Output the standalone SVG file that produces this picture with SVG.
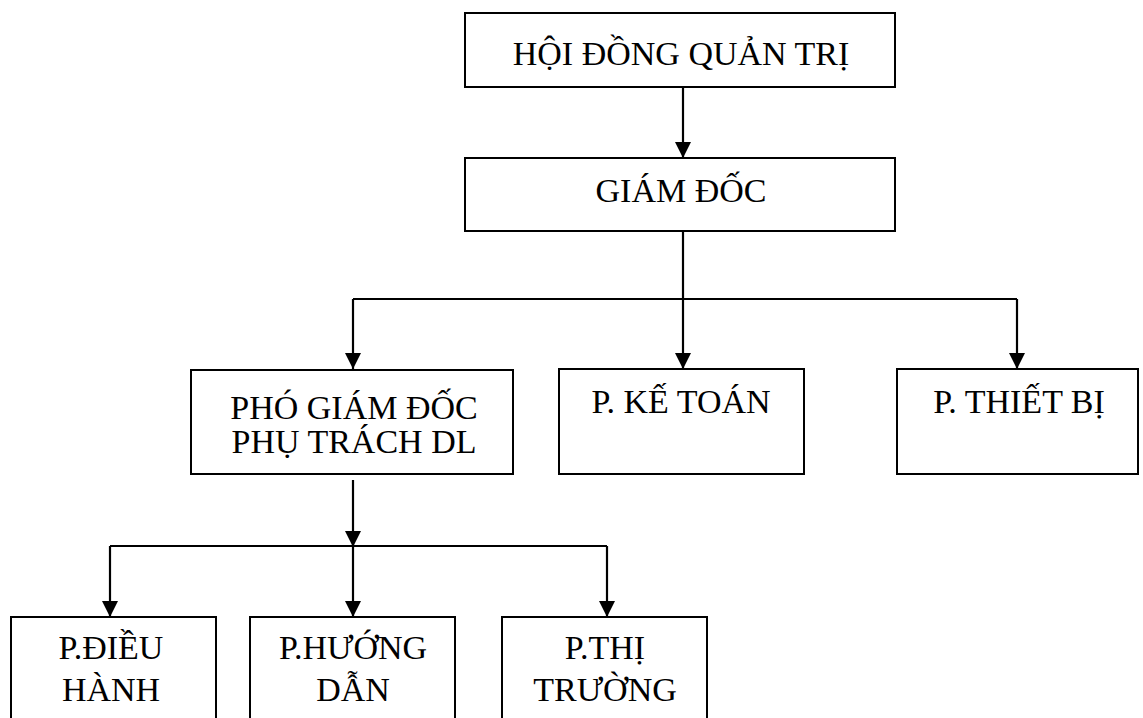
<svg xmlns="http://www.w3.org/2000/svg" width="1143" height="718" viewBox="0 0 1143 718">
<style>
.box{fill:#fff;stroke:#000;stroke-width:2}
.t{font-family:"Liberation Serif","Times New Roman",serif;font-size:34px;fill:#000;text-anchor:middle}
.c{fill:none;stroke:#000;stroke-width:2.2}
</style>
<defs>
<marker id="ah" markerUnits="userSpaceOnUse" markerWidth="16" markerHeight="16" refX="16" refY="8" orient="auto" viewBox="0 0 16 16">
<path d="M0,0 L16,8 L0,16 z" fill="#000"/>
</marker>
</defs>
<rect width="1143" height="718" fill="#fff"/>
<g id="connectors">
<line class="c" x1="683" y1="87" x2="683" y2="158" marker-end="url(#ah)"/>
<line class="c" x1="683" y1="231" x2="683" y2="369" marker-end="url(#ah)"/>
<polyline class="c" points="353,299 1017,299"/>
<line class="c" x1="353" y1="299" x2="353" y2="369" marker-end="url(#ah)"/>
<line class="c" x1="1017" y1="299" x2="1017" y2="369" marker-end="url(#ah)"/>
<line class="c" x1="353" y1="480" x2="353" y2="547" marker-end="url(#ah)"/>
<polyline class="c" points="110,546 607,546"/>
<line class="c" x1="110" y1="546" x2="110" y2="617" marker-end="url(#ah)"/>
<line class="c" x1="353" y1="546" x2="353" y2="617" marker-end="url(#ah)"/>
<line class="c" x1="607" y1="546" x2="607" y2="617" marker-end="url(#ah)"/>
</g>
<g id="hdqt">
<rect class="box" x="465" y="13" width="430" height="74"/>
<text class="t" x="681" y="65">HỘI ĐỒNG QUẢN TRỊ</text>
</g>
<g id="giamdoc">
<rect class="box" x="465" y="158" width="430" height="73"/>
<text class="t" x="681" y="202">GIÁM ĐỐC</text>
</g>
<g id="phogiamdoc">
<rect class="box" x="191" y="370" width="322" height="104"/>
<text class="t" x="354" y="419">PHÓ GIÁM ĐỐC</text>
<text class="t" x="354" y="453">PHỤ TRÁCH DL</text>
</g>
<g id="ketoan">
<rect class="box" x="559" y="369" width="245" height="105"/>
<text class="t" x="681" y="413">P. KẾ TOÁN</text>
</g>
<g id="thietbi">
<rect class="box" x="897" y="369" width="241" height="105"/>
<text class="t" x="1019" y="413">P. THIẾT BỊ</text>
</g>
<g id="dieuhanh">
<rect class="box" x="11" y="617" width="205" height="120"/>
<text class="t" x="111" y="659">P.ĐIỀU</text>
<text class="t" x="111" y="701">HÀNH</text>
</g>
<g id="huongdan">
<rect class="box" x="250" y="617" width="205" height="120"/>
<text class="t" x="353" y="659">P.HƯỚNG</text>
<text class="t" x="353" y="701">DẪN</text>
</g>
<g id="thitruong">
<rect class="box" x="502" y="617" width="205" height="120"/>
<text class="t" x="605" y="659">P.THỊ</text>
<text class="t" x="605" y="701">TRƯỜNG</text>
</g>
</svg>
